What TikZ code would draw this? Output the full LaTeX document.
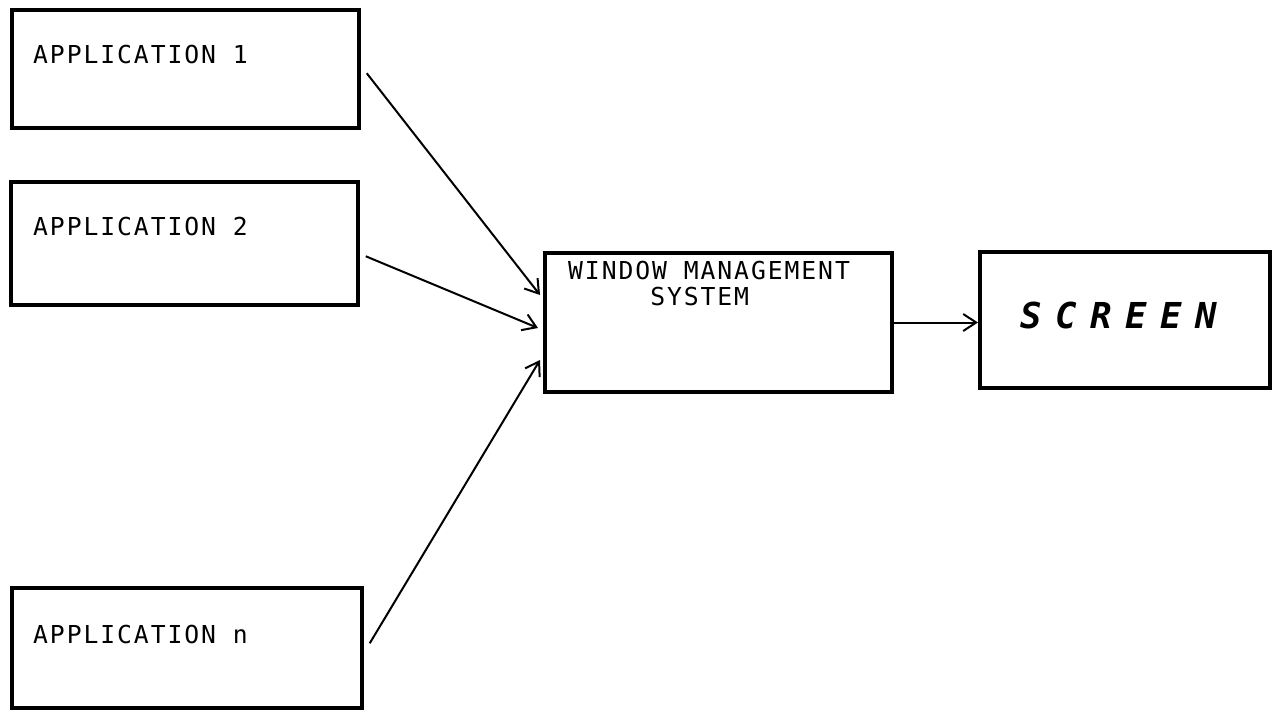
\documentclass[tikz,border=0pt]{standalone}
\usepackage{fontspec}
\usetikzlibrary{arrows.meta,calc}
\newfontfamily\plotfont[LetterSpace=7.8]{DejaVu Sans Mono}
\newfontfamily\screenfont[LetterSpace=38]{DejaVu Sans Mono Bold Oblique}
\tikzset{
  box/.style={draw, line width=3.5pt, rectangle, inner sep=0pt},
  bigbox/.style={box, line width=4pt},
  label/.style={inner sep=0pt, anchor=base west, font=\plotfont\fontsize{24.7}{26}\selectfont},
  flow/.style={line width=2pt, -{Straight Barb[length=13pt,width=17pt,line width=2pt]}},
}
\begin{document}
\begin{tikzpicture}[x=1pt,y=-1pt]
  \useasboundingbox (0,0) rectangle (1275,710);
  \fill[white] (0,0) rectangle (1275,710);

  % application boxes
  \node[box, minimum width=347pt, minimum height=118pt] (app1) at (185.5,69) {};
  \node[box, minimum width=347pt, minimum height=123pt] (app2) at (184.5,243.5) {};
  \node[box, minimum width=350pt, minimum height=120pt] (appn) at (187,648) {};
  \node[label] (t1) at (33,63) {APPLICATION 1};
  \node[label] (t2) at (33,235) {APPLICATION 2};
  \node[label] (tn) at (33,643) {APPLICATION n};

  % window management system and screen
  \node[bigbox, minimum width=347pt, minimum height=139pt] (wms) at (718.5,322.5) {};
  \node[label, align=left] (twms) at (568,305) {WINDOW MANAGEMENT\\\phantom{WINDO}SYSTEM};
  \node[bigbox, minimum width=290pt, minimum height=136pt] (scr) at (1125,320) {};
  \node[inner sep=0pt, anchor=base west, font=\screenfont\fontsize{35.7}{36}\selectfont] (tscr) at (1020,328) {SCREEN};

  % connectors
  \draw[flow] ([shift={(6,65)}]app1.north east) -- ([shift={(-3,44)}]wms.north west);
  \draw[flow] ([shift={(6,76)}]app2.north east) -- ([shift={(-5,77)}]wms.north west);
  \draw[flow] ([shift={(6,57)}]appn.north east) -- ([shift={(-3,109)}]wms.north west);
  \draw[flow] (wms.east) -- (wms.east -| scr.west);
\end{tikzpicture}
\end{document}
